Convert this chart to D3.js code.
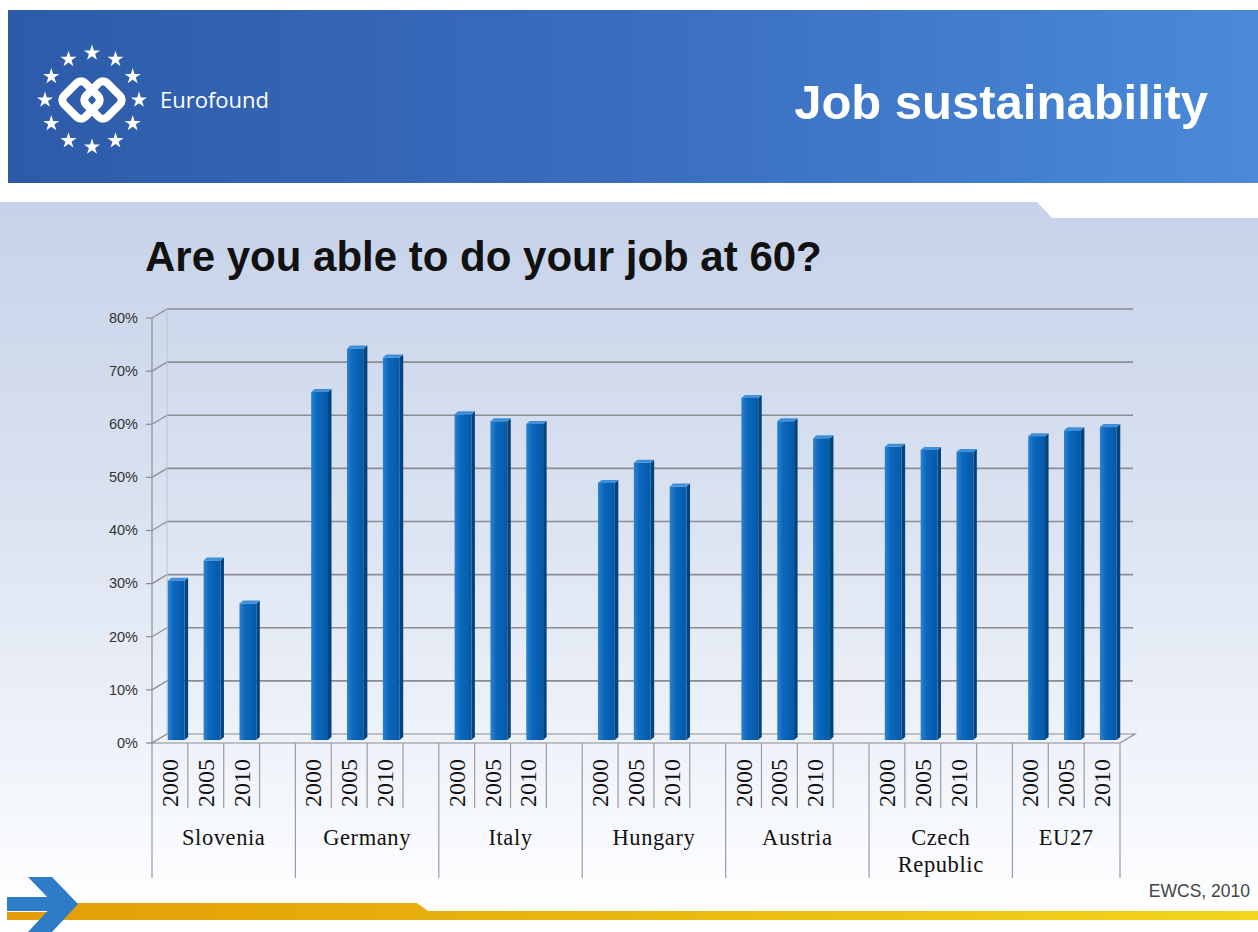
<!DOCTYPE html>
<html lang="en">
<head>
<meta charset="UTF-8">
<title>Job sustainability</title>
<script src="https://d3js.org/d3.v7.min.js"></script>
<style>
  body { margin: 0; background: #fff; }
  svg { display: block; }
</style>
</head>
<body>
<div id="chart"></div>
<script>
// data
var countries = ["Slovenia", "Germany", "Italy", "Hungary", "Austria", "Czech Republic", "EU27"];
var years = ["2000", "2005", "2010"];
var v2000 = [30.0, 65.5, 61.3, 48.4, 64.4, 55.2, 57.2];
var v2005 = [33.8, 73.7, 60.0, 52.2, 60.0, 54.6, 58.3];
var v2010 = [25.7, 72.0, 59.5, 47.7, 56.8, 54.2, 58.9];
var yTicks = [0, 10, 20, 30, 40, 50, 60, 70, 80];

var W = 1258, H = 932;
var svg = d3.select("#chart").append("svg").attr("width", W).attr("height", H);
var defs = svg.append("defs");

function grad(id, x2, y2, stops) {
  var g = defs.append("linearGradient").attr("id", id)
    .attr("x1", 0).attr("y1", 0).attr("x2", x2).attr("y2", y2);
  stops.forEach(s => g.append("stop").attr("offset", s[0]).attr("stop-color", s[1]));
}
grad("hdr", 1, 0, [[0, "#2d5ba9"], [0.5, "#3a6dbf"], [1, "#4a8ad9"]]);
grad("panel", 0, 1, [[0, "#c6d2e9"], [0.45, "#dbe3f1"], [0.85, "#f3f6fb"], [1, "#fdfeff"]]);
grad("band", 1, 0, [[0, "#e39d08"], [0.5, "#e9b80e"], [1, "#f3d51c"]]);
grad("barFront", 1, 0, [[0, "#2a82d2"], [0.35, "#0b67bb"], [1, "#0659a8"]]);

// ---- background ----
svg.append("rect").attr("x", 8).attr("y", 10).attr("width", W - 8).attr("height", 173).attr("fill", "url(#hdr)");
svg.append("path")
  .attr("d", "M0,202 L1037,202 L1052,218 L" + W + ",218 L" + W + ",900 L0,900 Z")
  .attr("fill", "url(#panel)");

// logo
var logo = svg.append("g");
var cx = 92, cy = 100, R = 47;
var star = d3.symbol().type(d3.symbolStar).size(80);
d3.range(12).forEach(function(i) {
  var a = i * Math.PI / 6;
  logo.append("path").attr("d", star)
    .attr("transform", "translate(" + (cx + R * Math.sin(a)) + "," + (cy - R * Math.cos(a)) + ")")
    .attr("fill", "#fff");
});
[[-11, 0], [11, 0]].forEach(function(o) {
  logo.append("rect").attr("x", -15).attr("y", -15).attr("width", 30).attr("height", 30)
    .attr("rx", 6).attr("fill", "none").attr("stroke", "#fff").attr("stroke-width", 8)
    .attr("transform", "translate(" + (cx + o[0]) + "," + (cy + o[1]) + ") rotate(45)");
});
logo.append("text").attr("x", 160).attr("y", 108).text("Eurofound")
  .attr("font-family", "Open Sans, Noto Sans, sans-serif").attr("font-size", 22).attr("fill", "#fff");

svg.append("text").attr("x", 1208).attr("y", 119).attr("text-anchor", "end")
  .text("Job sustainability")
  .attr("font-family", "Liberation Sans, Arial, sans-serif").attr("font-weight", "bold")
  .attr("font-size", 49).attr("fill", "#fff");

svg.append("text").attr("x", 145).attr("y", 271)
  .text("Are you able to do your job at 60?")
  .attr("font-family", "Liberation Sans, Arial, sans-serif").attr("font-weight", "bold")
  .attr("font-size", 42).attr("fill", "#111");

// bottom decoration
svg.append("path").attr("d", "M7,912 L60,912 L78,903 L417,903 L428,911 L" + W + ",911 L" + W + ",920 L7,920 Z")
  .attr("fill", "url(#band)");
svg.append("rect").attr("x", 7).attr("y", 897).attr("width", 50).attr("height", 14).attr("fill", "#2d7cc8");
svg.append("path").attr("d", "M28,877 L52,877 L78,904 L52,932 L28,932 L54,904 Z").attr("fill", "#2d7cc8");

svg.append("text").attr("x", 1250).attr("y", 897).attr("text-anchor", "end").text("EWCS, 2010")
  .attr("font-family", "Liberation Sans, Arial, sans-serif").attr("font-size", 17.5).attr("fill", "#444");

// ---- chart ----
var x0 = 152, x1 = 1120, yFloor = 743;
var DX = 15, DY = 9;           // depth of the 3D wall
var nSlots = countries.length * 4 - 1;
var x = d3.scaleBand().domain(d3.range(nSlots)).range([x0, x1]).padding(0);
var y = d3.scaleLinear().domain([0, 80]).range([yFloor, 318]);

var gridColor = "#8a8d94";
var chart = svg.append("g");

// gridlines on back wall, with diagonals to the front axis
yTicks.forEach(function(t) {
  var yf = y(t);
  if (t > 0) {
    chart.append("line").attr("x1", x0 + DX).attr("x2", x1 + DX - 2)
      .attr("y1", yf - DY).attr("y2", yf - DY)
      .attr("stroke", gridColor).attr("stroke-width", 1.6);
  }
  chart.append("line").attr("x1", x0).attr("x2", x0 + DX).attr("y1", yf).attr("y2", yf - DY)
    .attr("stroke", gridColor).attr("stroke-width", 1.2);
  chart.append("line").attr("x1", x0 - 6).attr("x2", x0).attr("y1", yf).attr("y2", yf)
    .attr("stroke", gridColor).attr("stroke-width", 1.2);
  chart.append("text").attr("x", 138).attr("y", yf + 1).attr("text-anchor", "end")
    .attr("dominant-baseline", "middle").text(t + "%")
    .attr("font-family", "Liberation Sans, Arial, sans-serif")
    .attr("font-size", 14.5).attr("fill", "#333");
});
// front axis + left wall edge
chart.append("line").attr("x1", x0).attr("x2", x0).attr("y1", y(80)).attr("y2", yFloor + 2)
  .attr("stroke", gridColor).attr("stroke-width", 1.2);
chart.append("line").attr("x1", x0 + DX).attr("x2", x0 + DX).attr("y1", y(80) - DY).attr("y2", yFloor - DY)
  .attr("stroke", "#bcc4d0").attr("stroke-width", 1);
// floor
chart.append("path")
  .attr("d", "M" + x0 + "," + yFloor + " L" + x1 + "," + yFloor + " L" + (x1 + DX) + "," + (yFloor - DY) +
        " L" + (x0 + DX) + "," + (yFloor - DY) + " Z")
  .attr("fill", "#eef1f6").attr("stroke", gridColor).attr("stroke-width", 1.2);

// bars
var rows = [];
countries.forEach(function(c, i) {
  [v2000, v2005, v2010].forEach(function(vals, j) {
    rows.push({ country: c, year: years[j], value: vals[i], slot: i * 4 + j });
  });
});

var bw = x.bandwidth() * 0.47, bdx = 3.5, bdy = 3, off = 5, yOff = 3;
var bars = chart.selectAll("g.bar").data(rows).enter().append("g").attr("class", "bar");
function bx(d) { return x(d.slot) + x.bandwidth() * 0.3 + off; }
function btop(d) { return y(d.value) - yOff; }
var yb = yFloor - yOff;
bars.append("path").attr("fill", "#04437c")
  .attr("d", d => "M" + (bx(d) + bw) + "," + btop(d) + " L" + (bx(d) + bw + bdx) + "," + (btop(d) - bdy) +
    " L" + (bx(d) + bw + bdx) + "," + (yb - bdy) + " L" + (bx(d) + bw) + "," + yb + " Z");
bars.append("rect").attr("fill", "url(#barFront)")
  .attr("x", bx).attr("y", btop).attr("width", bw).attr("height", d => yb - btop(d));
bars.append("path").attr("fill", "#3f8fda")
  .attr("d", d => "M" + bx(d) + "," + btop(d) + " L" + (bx(d) + bdx) + "," + (btop(d) - bdy) +
    " L" + (bx(d) + bw + bdx) + "," + (btop(d) - bdy) + " L" + (bx(d) + bw) + "," + btop(d) + " Z");

// category axis: separators and labels
var sepColor = "#9a9da3";
countries.forEach(function(c, i) {
  var s0 = i * 4;
  chart.append("line").attr("x1", x(s0)).attr("x2", x(s0)).attr("y1", yFloor).attr("y2", 878)
    .attr("stroke", sepColor).attr("stroke-width", 1.2);
  for (var j = 1; j <= 3; j++) {
    var xs = (s0 + j < nSlots) ? x(s0 + j) : x1;
    chart.append("line").attr("x1", xs).attr("x2", xs).attr("y1", yFloor)
      .attr("y2", (s0 + j < nSlots) ? 808 : 878)
      .attr("stroke", sepColor).attr("stroke-width", 1.2);
  }
  var xEnd = (i < countries.length - 1) ? x(s0 + 4) : x1;
  var lines = c === "Czech Republic" ? ["Czech", "Republic"] : [c];
  var t = chart.append("text").attr("text-anchor", "middle")
    .attr("font-family", "Liberation Serif, Times New Roman, serif").attr("font-size", 22.5)
    .attr("letter-spacing", 0.6).attr("fill", "#111");
  lines.forEach(function(l, k) {
    t.append("tspan").attr("x", (x(s0) + xEnd) / 2).attr("y", 845 + k * 27).text(l);
  });
});

chart.selectAll("text.yr").data(rows).enter().append("text").attr("class", "yr")
  .attr("transform", d => "translate(" + (x(d.slot) + x.bandwidth() / 2 + 8) + ",783) rotate(-90)")
  .attr("text-anchor", "middle")
  .attr("font-family", "Liberation Serif, Times New Roman, serif").attr("font-size", 24)
  .attr("fill", "#111").text(d => d.year);
</script>
</body>
</html>
